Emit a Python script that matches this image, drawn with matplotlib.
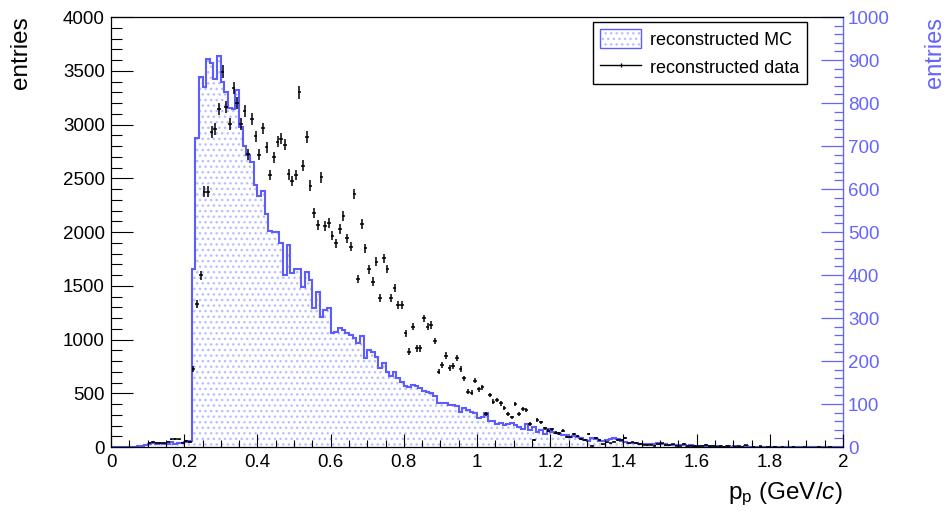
import matplotlib
matplotlib.use("Agg")
import matplotlib.pyplot as plt
import numpy as np
from matplotlib.legend_handler import HandlerTuple
from matplotlib.lines import Line2D
from matplotlib.patches import Patch
from matplotlib.ticker import MultipleLocator

plt.rcParams["font.family"] = ["Liberation Sans", "DejaVu Sans"]
plt.rcParams["mathtext.fontset"] = "custom"
plt.rcParams["mathtext.rm"] = "Liberation Sans"
plt.rcParams["mathtext.it"] = "Liberation Sans:style=italic"
plt.rcParams["hatch.linewidth"] = 1.0

BIN_WIDTH = 0.01

# reconstructed MC, 200 bins from 0 to 2 GeV/c (right axis)
mc_counts = [
    0, 0, 0, 0, 0, 0, 1, 2, 3, 4,
    8, 9, 7, 10, 6, 8, 11, 7, 9, 10,
    12, 14, 415, 718, 860, 838, 903, 893, 855, 910,
    850, 825, 788, 785, 830, 745, 700, 680, 663, 610,
    583, 595, 543, 503, 501, 500, 475, 400, 470, 405,
    413, 415, 373, 408, 388, 323, 361, 303, 319, 323,
    265, 268, 276, 272, 265, 261, 253, 243, 257, 206,
    226, 220, 210, 183, 195, 175, 164, 175, 160, 152,
    142, 140, 144, 142, 137, 131, 129, 126, 119, 103,
    102, 102, 98, 98, 95, 82, 90, 86, 82, 78,
    67, 69, 80, 61, 61, 54, 55, 51, 54, 55,
    51, 47, 41, 53, 40, 46, 36, 40, 31, 41,
    36, 33, 30, 27, 28, 24, 26, 23, 20, 16,
    13, 20, 18, 15, 13, 16, 18, 20, 18, 14,
    12, 10, 10, 9, 7, 6, 6, 6, 6, 9,
    7, 6, 5, 5, 4, 5, 4, 3, 4, 3,
    3, 3, 2, 3, 2, 2, 2, 1, 2, 1,
    2, 1, 1, 2, 1, 1, 1, 1, 0, 1,
    1, 1, 0, 1, 0, 1, 0, 0, 1, 0,
    0, 1, 0, 0, 1, 0, 0, 0, 0, 0,
]

# reconstructed data, bins from 0.10 to 2 GeV/c (left axis)
data_start = 0.10
data_counts = [
    40, 45, 40, 35, 40, 50, 70, 75, 70, 40,
    55, 45, 722, 1330, 1597, 2375, 2375, 2933, 2955, 3144,
    3491, 3166, 3004, 3342, 3197, 3002, 3128, 2722, 3054, 2890,
    2719, 2964, 2788, 2530, 2695, 2840, 2868, 2812, 2536, 2474,
    2530, 3299, 2614, 2886, 2431, 2180, 2065, 2508, 2056, 2081,
    1966, 1895, 2025, 2149, 1941, 1863, 2353, 1563, 2074, 1848,
    1653, 1538, 1724, 1383, 1755, 1656, 1389, 1476, 1318, 1321,
    1058, 887, 1119, 918, 918, 1197, 1119, 1135, 986, 701,
    763, 850, 738, 757, 825, 722, 639, 515, 505, 617,
    536, 555, 304, 484, 422, 437, 406, 360, 307, 276,
    397, 307, 353, 344, 214, 65, 251, 229, 174, 152,
    164, 133, 127, 152, 96, 90, 121, 102, 77, 65,
    118, 12, 81, 65, 25, 43, 34, 50, 65, 65,
    87, 34, 43, 34, 28, 19, 16, 20, 12, 25,
    34, 18, 15, 26, 12, 10, 28, 8, 12, 6,
    10, 8, 19, 5, 9, 4, 7, 3, 5, 0,
    4, 6, 2, 15, 0, 3, 0, 5, 0, 2,
    0, 4, 0, 2, 0, 0, 3, 0, 0, 2,
    0, 0, 0, 2, 0, 0, 1, 0, 0, 0,
]

BLUE = "#6464ff"
LINE_BLUE = "#5c5cff"
DOT_BLUE = "#b8beff"

mc = np.asarray(mc_counts, dtype=float)
edges = np.arange(len(mc) + 1) * BIN_WIDTH
data = np.asarray(data_counts, dtype=float)
centers = data_start + (np.arange(len(data)) + 0.5) * BIN_WIDTH
keep = data > 0

fig = plt.figure(figsize=(9.47, 5.11), dpi=100)
fig.subplots_adjust(left=111 / 947, right=843 / 947, bottom=64 / 511, top=494 / 511)
ax = fig.add_subplot(111)
ax2 = ax.twinx()
ax.set_zorder(ax2.get_zorder() + 1)
ax.patch.set_visible(False)

# MC on the right axis
ax2.stairs(mc, edges, fill=True, facecolor="none", edgecolor=DOT_BLUE,
           hatch="...", linewidth=0)
ax2.stairs(mc, edges, color=LINE_BLUE, linewidth=1.5)
ax2.set_ylim(0, 1000)

# data on the left axis
ax.errorbar(centers[keep], data[keep], yerr=np.sqrt(data[keep]),
            xerr=BIN_WIDTH / 2, fmt="none", ecolor="black",
            elinewidth=1.1, capsize=0)
ax.set_xlim(0, 2)
ax.set_ylim(0, 4000)

# ROOT-like axes
tick_font = 13.5
ax.xaxis.set_major_locator(MultipleLocator(0.2))
ax.xaxis.set_minor_locator(MultipleLocator(0.05))
ax.yaxis.set_major_locator(MultipleLocator(500))
ax.yaxis.set_minor_locator(MultipleLocator(100))
ax.xaxis.set_major_formatter(plt.FuncFormatter(lambda v, _: f"{v:g}"))
ax.tick_params(axis="x", which="major", direction="in", length=9.4, width=0.8,
               labelsize=tick_font, pad=5, top=False)
ax.tick_params(axis="x", which="minor", direction="in", length=4.7, width=0.8, top=False)
ax.tick_params(axis="y", which="major", direction="in", length=15.8, width=0.8,
               labelsize=tick_font, pad=4.5, right=False)
ax.tick_params(axis="y", which="minor", direction="in", length=7.9, width=0.8, right=False)
ax.spines["right"].set_visible(False)
for side in ("left", "top", "bottom"):
    ax.spines[side].set_linewidth(0.9)

ax2.yaxis.set_major_locator(MultipleLocator(100))
ax2.yaxis.set_minor_locator(MultipleLocator(20))
ax2.tick_params(axis="y", which="major", direction="in", length=15.8, width=0.9,
                color=BLUE, labelcolor=BLUE, labelsize=tick_font, pad=3.5)
ax2.tick_params(axis="y", which="minor", direction="in", length=6.5, width=0.9, color=BLUE)
ax2.spines["right"].set_color(BLUE)
ax2.spines["right"].set_linewidth(1.0)
for side in ("left", "top", "bottom"):
    ax2.spines[side].set_visible(False)

# axis titles
fig.text(21 / 947, 1 - 16 / 511, "entries", rotation=90, ha="center", va="top",
         fontsize=17.5)
fig.text(935 / 947, 1 - 17 / 511, "entries", rotation=90, ha="center", va="top",
         fontsize=17, color=BLUE)
fig.text(843 / 947, 1 - 499 / 511, r"p$_{\mathrm{p}}$ (GeV/$c$)", ha="right",
         va="baseline", fontsize=17.5)

# legend
mc_fill = Patch(facecolor="none", edgecolor=DOT_BLUE, hatch="...", linewidth=0)
mc_box = Patch(facecolor="none", edgecolor=LINE_BLUE, linewidth=1.0)
data_line = Line2D([], [], color="black", linewidth=1.0, marker="|",
                   markersize=3, markeredgewidth=1.0)
leg = ax.legend([(mc_fill, mc_box), data_line],
                ["reconstructed MC", "reconstructed data"],
                handler_map={tuple: HandlerTuple(ndivide=1)},
                loc="upper left", bbox_to_anchor=(0.658, 0.988),
                borderaxespad=0, fontsize=13, fancybox=False,
                edgecolor="black", framealpha=1, handlelength=2.3,
                handleheight=1.2, handletextpad=0.5, labelspacing=0.5,
                borderpad=0.4)
leg.get_frame().set_linewidth(1.0)

fig.savefig("out.png", dpi=100)
